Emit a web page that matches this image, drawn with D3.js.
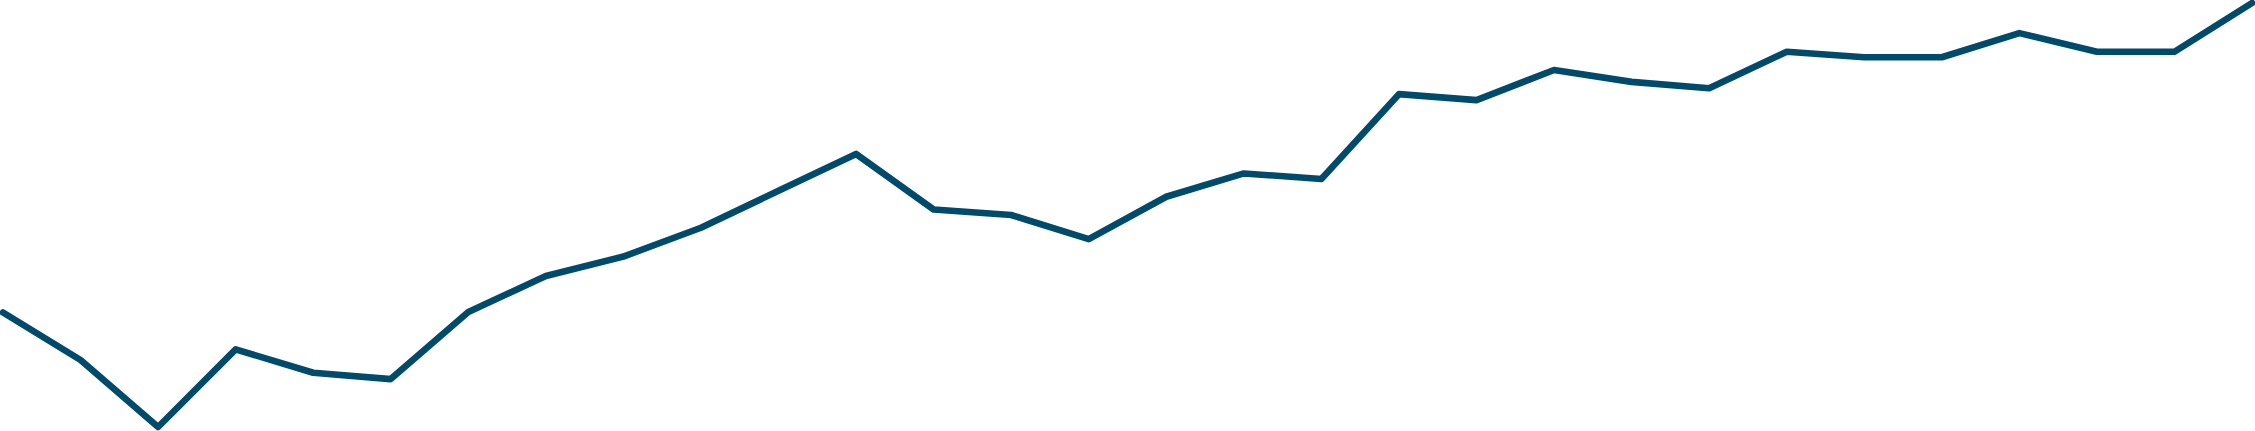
<html>
<head>
<script src="https://d3js.org/d3.v7.min.js"></script>
<style>
  body { margin: 0; background: #ffffff; }
  svg { display: block; }
</style>
</head>
<body>
<div id="chart_area"></div>
<script>

// values, one per period (0 = lowest, 100 = highest)
var periods = d3.range(30);
var values = [27.0, 15.8, 0.0, 18.3, 12.8, 11.3, 27.1, 35.6, 40.2, 47.0,
              55.7, 64.4, 51.3, 50.0, 44.3, 54.3, 59.8, 58.5, 78.5, 77.1,
              84.2, 81.4, 79.9, 88.5, 87.2, 87.2, 92.9, 88.5, 88.5, 100.0];

var width = 2255, height = 431,
    margin = {top: 3, right: 3, bottom: 4, left: 3};

var x = d3.scaleLinear()
    .domain(d3.extent(periods))
    .range([margin.left, width - margin.right]);

var y = d3.scaleLinear()
    .domain([0, 100])
    .range([height - margin.bottom, margin.top]);

var svg = d3.select("#chart_area").append("svg")
    .attr("width", width)
    .attr("height", height);

var line = d3.line()
    .x(function(d, i) { return x(periods[i]); })
    .y(function(d) { return y(d); });

svg.append("path")
    .datum(values)
    .attr("d", line)
    .attr("fill", "none")
    .attr("stroke", "#004a6b")
    .attr("stroke-width", 6.6)
    .attr("stroke-linejoin", "round")
    .attr("stroke-linecap", "round");

</script>
</body>
</html>
